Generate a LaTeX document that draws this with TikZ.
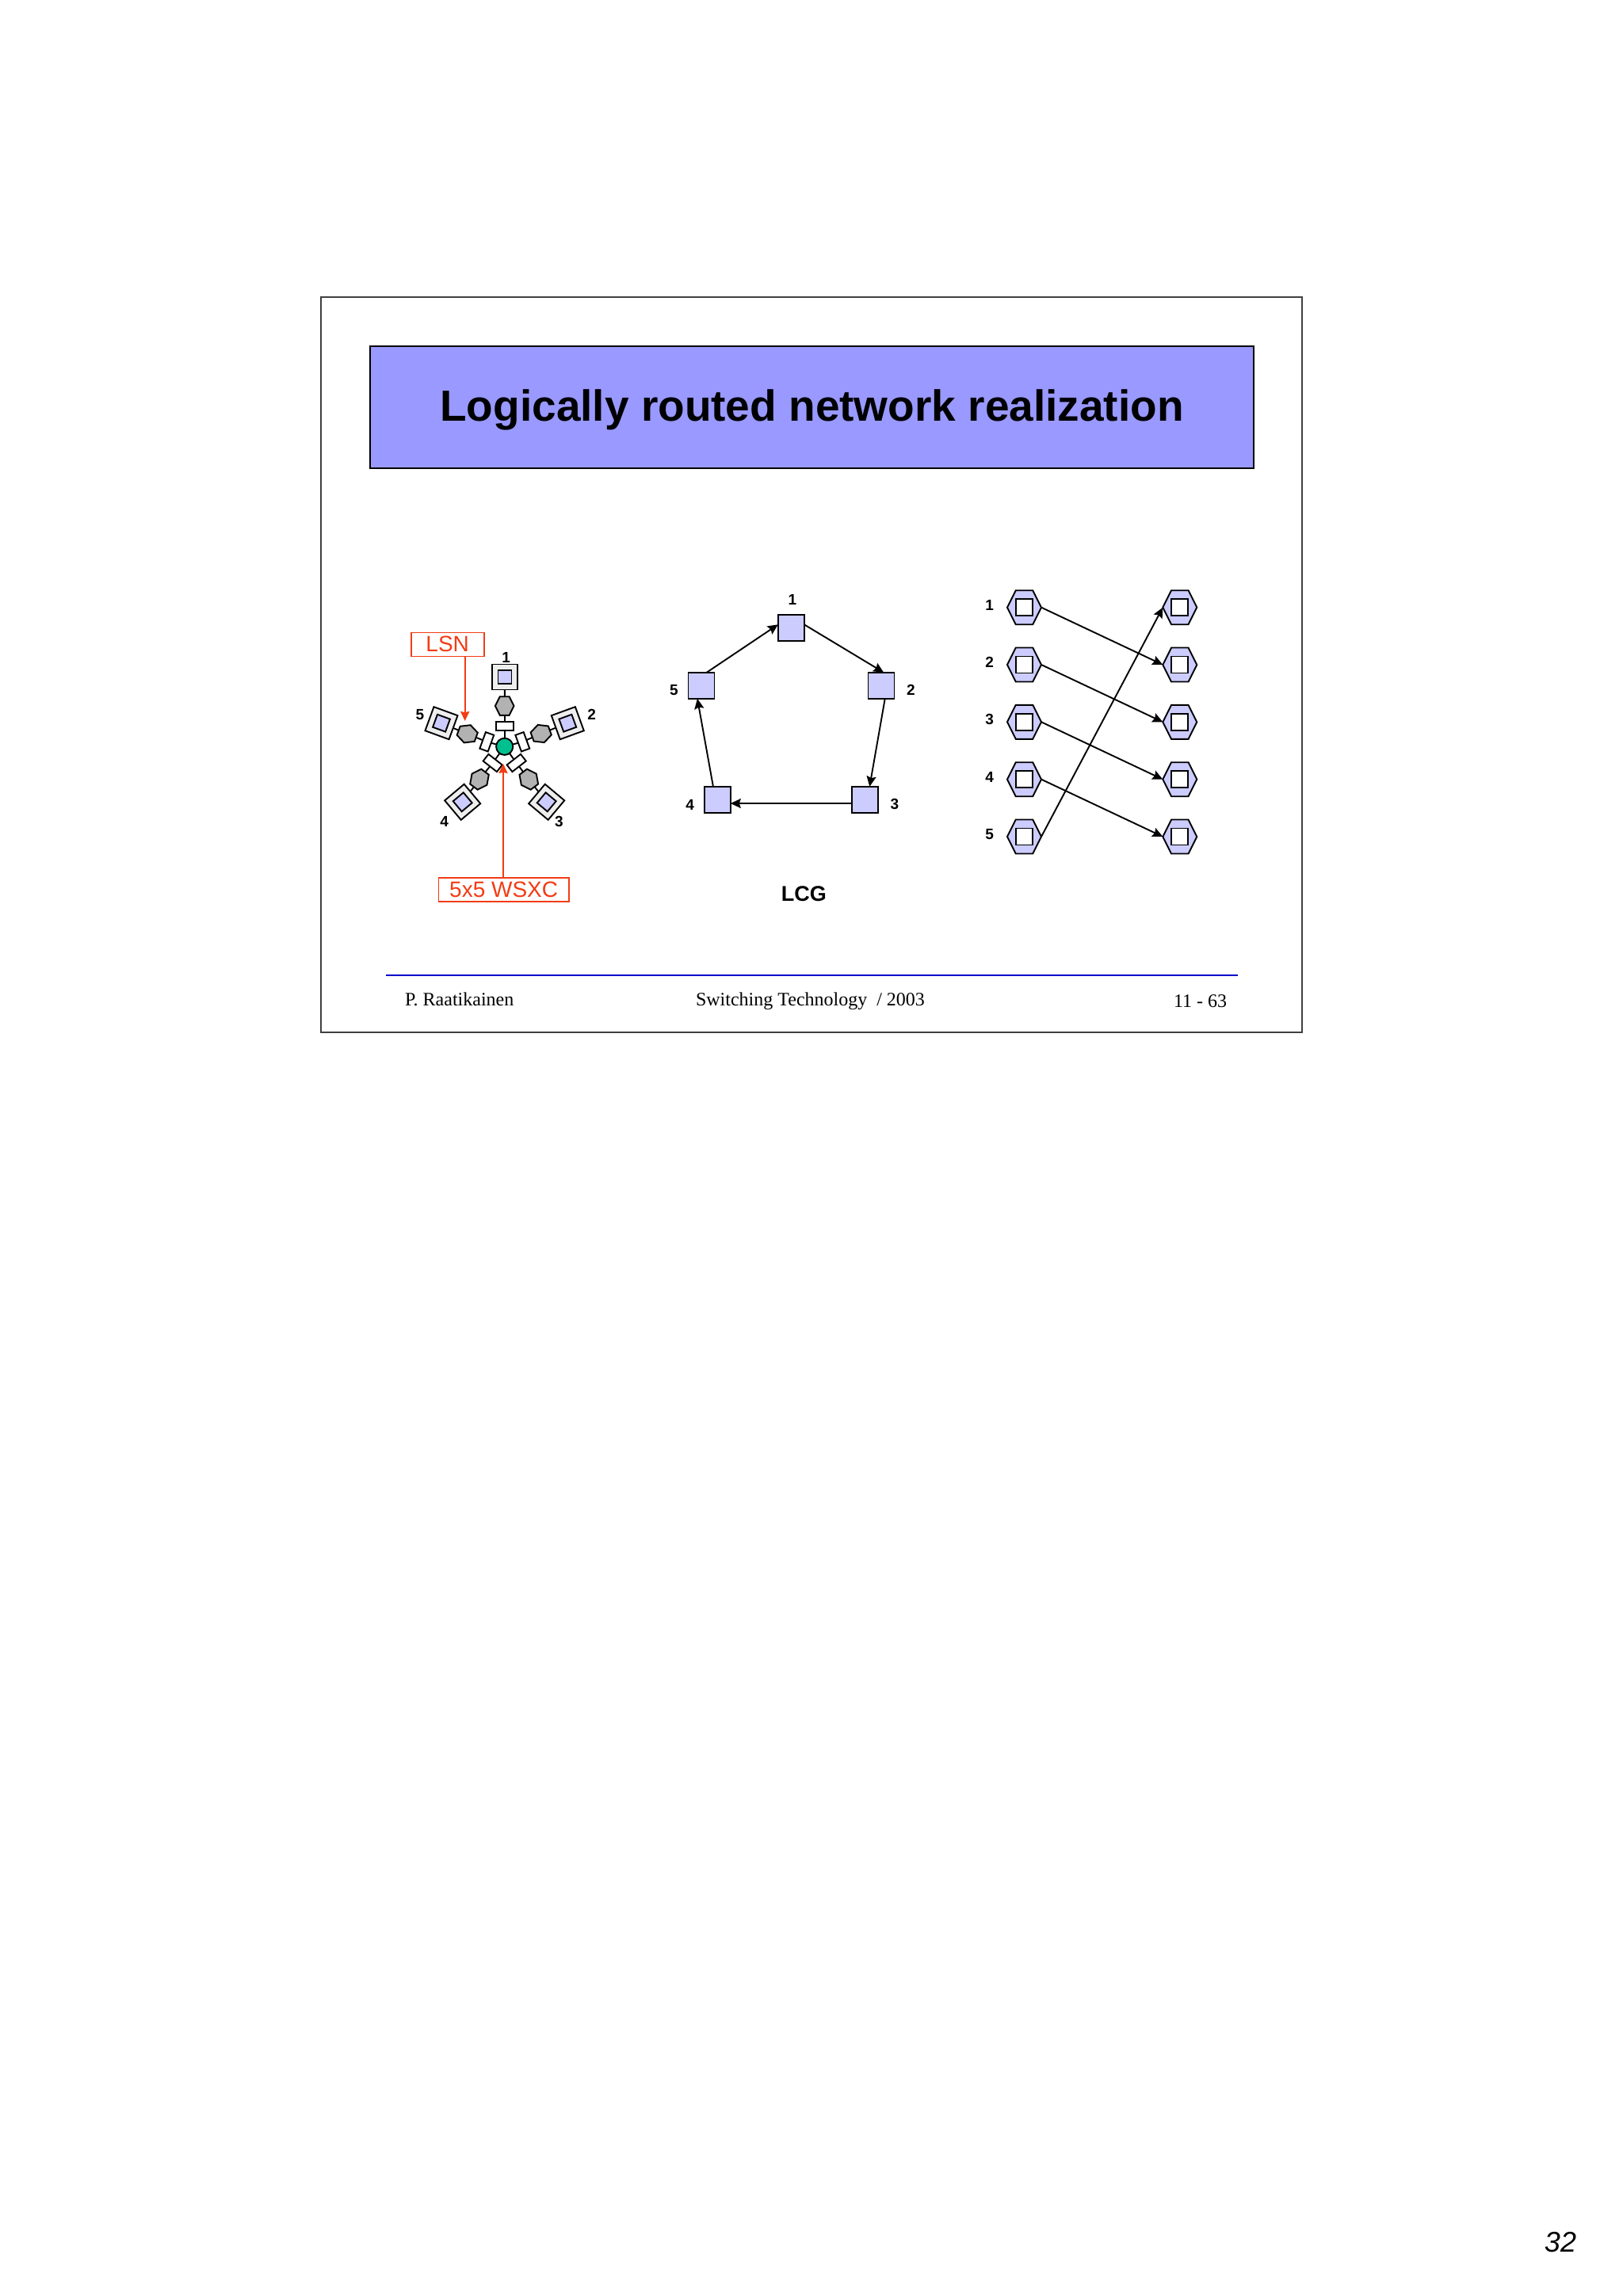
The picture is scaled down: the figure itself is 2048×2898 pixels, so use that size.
\documentclass[tikz,border=0pt]{standalone}
\usepackage{fontspec}
\setmainfont{Liberation Serif}
\setsansfont{Liberation Sans}
\usetikzlibrary{arrows.meta,shapes.geometric}
\definecolor{lilac}{HTML}{CCCCFF}
\definecolor{titleblue}{HTML}{9999FF}
\definecolor{redline}{HTML}{F23C14}
\definecolor{wsgreen}{HTML}{00C08F}
\definecolor{hexgrey}{HTML}{B2B2B2}
\definecolor{pale}{HTML}{EEEEEE}
\tikzset{
  every node/.style={inner sep=0pt,outer sep=0pt},
  wire/.style={line width=0.95pt,draw=black},
  arrowline/.style={wire,-{Stealth[length=6.5pt,width=6pt,inset=1pt]}},
  redarrow/.style={line width=0.95pt,draw=redline,-{Stealth[length=6pt,width=5.5pt,inset=0.6pt]}},
  redbox/.style={draw=redline,line width=0.8pt,fill=white,text=redline,font=\sffamily\fontsize{14pt}{16pt}\selectfont,align=center},
  numlabel/.style={font=\sffamily\bfseries\fontsize{9.5pt}{11pt}\selectfont},
  footer/.style={font=\fontsize{12pt}{14pt}\selectfont,anchor=base west},
  lcgsquare/.style={draw=black,line width=0.95pt,fill=lilac,minimum size=16.5pt},
  outersq/.style={draw=black,line width=0.95pt,fill=pale,minimum size=16pt},
  innersq/.style={draw=black,line width=0.95pt,fill=lilac,minimum size=8.5pt},
  smallrect/.style={draw=black,line width=0.95pt,fill=white,minimum width=11pt,minimum height=5.5pt},
  hexgen/.style={regular polygon,regular polygon sides=6,draw=black,line width=0.95pt,transform shape,yscale=1.155},
  greyhex/.style={hexgen,fill=hexgrey,minimum size=11.8pt},
  bluehex/.style={hexgen,fill=lilac,minimum size=21.5pt},
  whitesq/.style={draw=black,line width=0.95pt,fill=white,minimum size=10.5pt},
}
\begin{document}
\begin{tikzpicture}[x=0.5pt,y=-0.5pt]
\useasboundingbox (0,0) rectangle (2048,2898);
\fill[white] (0,0) rectangle (2048,2898);
% frame
\node[draw=black!75,line width=0.8pt,minimum width=619pt,minimum height=464pt] (frame) at (1024,839) {};
\node[draw=black,line width=0.7pt,fill=titleblue,minimum width=557.5pt,minimum height=77pt,
  font=\sffamily\bfseries\fontsize{27.5pt}{32pt}\selectfont,text height=23pt,text depth=5.7pt] (title) at (1024.5,514) {Logically routed network realization};
% footer
\coordinate (fl) at (487,1231);
\coordinate (fr) at (1562,1231);
\draw[draw=blue!80!black,line width=0.7pt] (fl) -- (fr);
\node[footer] (f1) at (511,1269.5) {P. Raatikainen};
\node[footer] (f2) at (878,1269.5) {Switching Technology~~/ 2003};
\node[footer] (f3) at (1481,1271.5) {11 - 63};
\node[font=\sffamily\itshape\fontsize{18pt}{20pt}\selectfont,anchor=base] (pg) at (1969,2842) {32};

% left: star
\node[circle,draw=black,line width=0.95pt,fill=wsgreen,minimum size=10.6pt] (c) at (636.7,942.3) {};
\node[outersq] (o1) at (637,854.5) {};
\node[outersq,rotate=-70] (o2) at (716.3,912.7) {};
\node[outersq,rotate=-40] (o3) at (689.7,1012.3) {};
\node[outersq,rotate=40] (o4) at (583.7,1012.3) {};
\node[outersq,rotate=70] (o5) at (557,912.7) {};
\node[innersq] (i1) at (o1) {};
\node[innersq,rotate=-70] (i2) at (o2) {};
\node[innersq,rotate=-40] (i3) at (o3) {};
\node[innersq,rotate=40] (i4) at (o4) {};
\node[innersq,rotate=70] (i5) at (o5) {};
\node[greyhex] (h1) at (636.7,891) {};
\node[rotate=-70,greyhex] (h2) at (682.7,926) {};
\node[rotate=-143,greyhex] (h3) at (667.3,983.7) {};
\node[rotate=143,greyhex] (h4) at (605,983.7) {};
\node[rotate=70,greyhex] (h5) at (589.7,926.3) {};
\node[smallrect] (r1) at (636.7,916.7) {};
\node[smallrect,rotate=-70] (r2) at (659.3,936.3) {};
\node[smallrect,rotate=38] (r3) at (651.7,963) {};
\node[smallrect,rotate=-38] (r4) at (621.7,963) {};
\node[smallrect,rotate=70] (r5) at (614.3,936.3) {};
\foreach \k in {1,...,5}{
  \draw[wire] (o\k) -- (h\k);
  \draw[wire] (h\k) -- (r\k);
  \draw[wire] (r\k) -- (c);
}
\node[numlabel] (sl1) at (638.7,830) {1};
\node[numlabel] (sl2) at (746.7,902.3) {2};
\node[numlabel] (sl3) at (705.3,1036.7) {3};
\node[numlabel] (sl4) at (560.7,1036.7) {4};
\node[numlabel] (sl5) at (530,902.3) {5};
\node[redbox,minimum width=46pt,minimum height=15pt] (lsn) at (564.7,813.3) {LSN};
\node[redbox,minimum width=82.3pt,minimum height=15pt] (wsxc) at (635.7,1123.2) {5x5 WSXC};
\coordinate (lsntip) at (586.7,910);
\coordinate (wsxctip) at (635,964);
\draw[redarrow] (lsntip |- lsn.south) -- (lsntip);
\draw[redarrow] (wsxctip |- wsxc.north) -- (wsxctip);

% middle: LCG
\node[lcgsquare] (n1) at (998.3,792.7) {};
\node[lcgsquare] (n2) at (1112,865.3) {};
\node[lcgsquare] (n3) at (1091.3,1009.3) {};
\node[lcgsquare] (n4) at (905.3,1009.3) {};
\node[lcgsquare] (n5) at (885,865.3) {};
\draw[arrowline] (n1.15) -- (n2.79);
\draw[arrowline] (n2.-74) -- (n3.70);
\draw[arrowline] (n3.196) -- (n4.-16);
\draw[arrowline] (n4.108) -- (n5.-107);
\draw[arrowline] (n5.68) -- (n1.165);
\node[numlabel] (ml1) at (1000,757.3) {1};
\node[numlabel] (ml2) at (1149.3,870.7) {2};
\node[numlabel] (ml3) at (1129,1015) {3};
\node[numlabel] (ml4) at (870.7,1015.7) {4};
\node[numlabel] (ml5) at (850.3,870.7) {5};
\node[font=\sffamily\bfseries\fontsize{13.5pt}{15pt}\selectfont] (lcg) at (1014.3,1128.3) {LCG};

% right: permutation
\foreach \k/\yy in {1/766.7,2/839,3/911.3,4/983.7,5/1056}{
  \node[bluehex] (a\k) at (1292.5,\yy) {};
  \node[bluehex] (b\k) at (1488.8,\yy) {};
  \node[whitesq] (as\k) at (a\k) {};
  \node[whitesq] (bs\k) at (b\k) {};
  \node[numlabel] (al\k) at (1248.7,\yy-3) {\k};
}
\draw[arrowline] (a1.east) -- (b2.west);
\draw[arrowline] (a2.east) -- (b3.west);
\draw[arrowline] (a3.east) -- (b4.west);
\draw[arrowline] (a4.east) -- (b5.west);
\draw[arrowline] (a5.east) -- (b1.west);
\end{tikzpicture}
\end{document}
